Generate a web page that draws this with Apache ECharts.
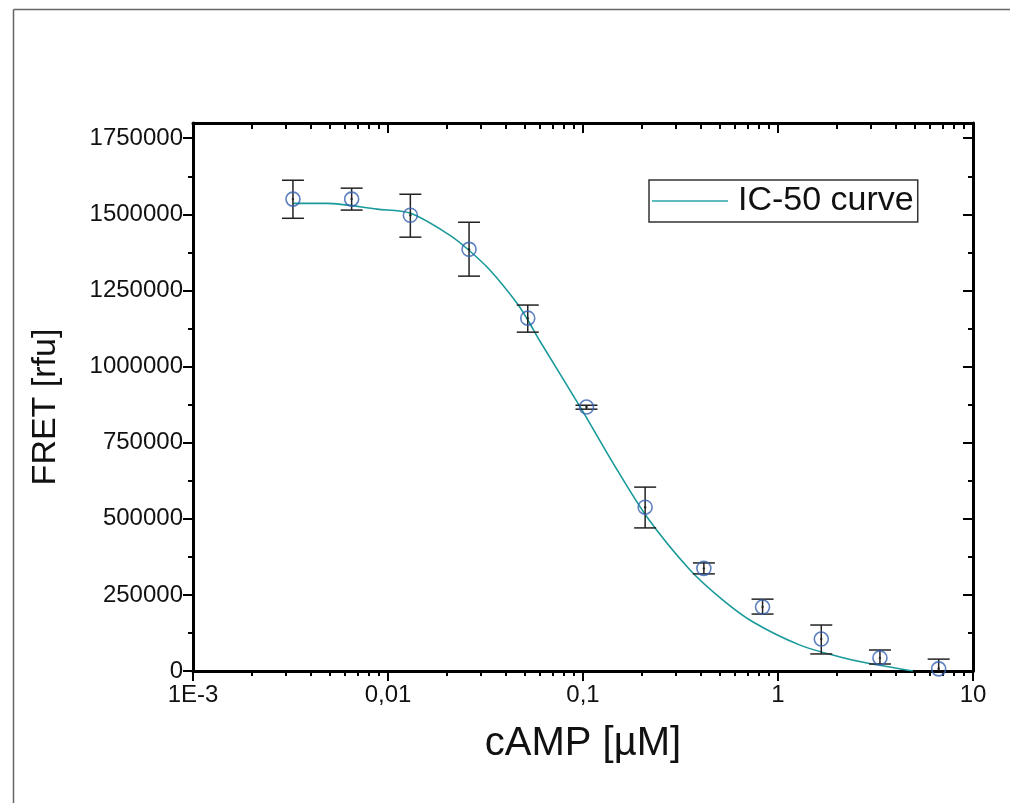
<!DOCTYPE html>
<html>
<head>
<meta charset="utf-8">
<script src="https://cdn.jsdelivr.net/npm/echarts@6/dist/echarts.min.js"></script>
<style>
html,body{margin:0;padding:0;background:#fff;}
#chart{width:1017px;height:803px;}
</style>
</head>
<body>
<div id="chart"></div>
<script>
// ---- data ----
const conc = [0.003255, 0.00651, 0.01302, 0.02604, 0.05208, 0.1042, 0.2083, 0.4167, 0.8333, 1.667, 3.333, 6.667];
const fret = [1550000, 1550000, 1497000, 1385000, 1159000, 867000, 538000, 337000, 210000, 105000, 43000, 7000];
const errHigh = [1612000, 1586000, 1566000, 1474000, 1202000, 873000, 604000, 355000, 236000, 151000, 69000, 39000];
const errLow = [1487000, 1514000, 1425000, 1297000, 1113000, 860000, 470000, 319000, 187000, 56000, 23000, -26000];

const curveX = [0.00326, 0.00486, 0.00879, 0.01297, 0.0208, 0.0260, 0.0333, 0.0459, 0.0522, 0.0602, 0.0989, 0.1426, 0.2128, 0.354, 0.522, 0.745, 1.297, 2.08, 2.86, 4.92];
const curveY = [1536000, 1536000, 1517000, 1504000, 1431000, 1382000, 1317000, 1208000, 1152000, 1083000, 857000, 683000, 506000, 332000, 233000, 161000, 85000, 46000, 26000, 0];

const xMajor = [0.001, 0.01, 0.1, 1, 10];
const xMajorLabels = ['1E-3', '0,01', '0,1', '1', '10'];
const xMinor = [0.002,0.003,0.004,0.005,0.006,0.007,0.008,0.009,
                0.02,0.03,0.04,0.05,0.06,0.07,0.08,0.09,
                0.2,0.3,0.4,0.5,0.6,0.7,0.8,0.9,
                2,3,4,5,6,7,8,9];
const yMajor = [0, 250000, 500000, 750000, 1000000, 1250000, 1500000, 1750000];
const yMinor = [125000, 375000, 625000, 875000, 1125000, 1375000, 1625000];

const FONT = '"Liberation Sans", Arial, sans-serif';
const X_MIN = 0.001, X_MAX = 10, Y_MIN = 0, Y_MAX = 1800000;

function xLabel(v) {
  let best = 0, bd = Infinity;
  xMajor.forEach((m, i) => { const d = Math.abs(Math.log10(m) - Math.log10(v)); if (d < bd) { bd = d; best = i; } });
  return xMajorLabels[best];
}

function xAx(pos, ticks, len, inside, showLine, opts) {
  return Object.assign({
    type: 'log', logBase: 10, min: X_MIN, max: X_MAX, position: pos,
    axisLine: { show: showLine, onZero: false, lineStyle: { color: '#000', width: 3 } },
    axisTick: { show: true, inside: inside, length: len, customValues: ticks, lineStyle: { color: '#000', width: 2 } },
    axisLabel: { show: false },
    splitLine: { show: false },
    minorTick: { show: false }, minorSplitLine: { show: false }
  }, opts || {});
}
function yAx(pos, ticks, len, inside, showLine, opts) {
  return Object.assign({
    type: 'value', min: Y_MIN, max: Y_MAX, position: pos,
    axisLine: { show: showLine, onZero: false, lineStyle: { color: '#000', width: 3 } },
    axisTick: { show: true, inside: inside, length: len, customValues: ticks, lineStyle: { color: '#000', width: 2 } },
    axisLabel: { show: false },
    splitLine: { show: false }
  }, opts || {});
}

const errData = conc.map((c, i) => [c, errLow[i], errHigh[i]]);
const pts = conc.map((c, i) => [c, fret[i]]);
const curve = curveX.map((c, i) => [c, curveY[i]]);

const chart = echarts.init(document.getElementById('chart'), null, { renderer: 'canvas' });
chart.setOption({
  animation: false,
  backgroundColor: '#fff',
  textStyle: { fontFamily: FONT },
  grid: { left: 193, top: 123, right: 44, bottom: 132, containLabel: false },
  xAxis: [
    xAx('bottom', xMajor, 10, false, true, {
      axisLabel: {
        show: true, customValues: xMajor, margin: 12, fontSize: 24, color: '#111', fontFamily: FONT,
        formatter: xLabel
      },
      name: 'cAMP [µM]', nameLocation: 'middle', nameGap: 53,
      nameTextStyle: { fontSize: 40, color: '#111', fontFamily: FONT }
    }),
    xAx('bottom', xMinor, 5, false, false),
    xAx('top', xMajor, 10, true, true),
    xAx('top', xMinor, 6, true, false)
  ],
  yAxis: [
    yAx('left', yMajor, 10, false, true, {
      axisLabel: { show: true, customValues: yMajor, margin: 10, fontSize: 24, color: '#111', fontFamily: FONT,
        formatter: v => String(Math.round(v)) },
      name: 'FRET [rfu]', nameLocation: 'middle', nameGap: 130,
      nameTextStyle: { fontSize: 34, color: '#111', fontFamily: FONT, padding: [0, 20, 0, 0] }
    }),
    yAx('left', yMinor, 5, false, false),
    yAx('right', yMajor, 10, true, true),
    yAx('right', yMinor, 5, true, false)
  ],
  legend: {
    left: 649, top: 180,
    orient: 'vertical',
    data: [{ name: 'IC-50 curve', icon: 'rect' }],
    borderColor: '#333', borderWidth: 1.5, borderRadius: 0,
    padding: [4, 4, 4, 3],
    itemWidth: 76, itemHeight: 2,
    itemStyle: { color: '#5fbcbc' },
    textStyle: { fontSize: 34, color: '#111', fontFamily: FONT, padding: [0, 0, 0, 5] }
  },
  series: [
    {
      name: 'IC-50 curve', type: 'line', data: curve, smooth: 0.3,
      symbol: 'none', xAxisIndex: 0, yAxisIndex: 0,
      lineStyle: { color: '#1a9a9a', width: 1.6 }, itemStyle: { color: '#1a9a9a' }, z: 3
    },
    {
      name: 'err', type: 'custom', data: errData, xAxisIndex: 0, yAxisIndex: 0, clip: true, z: 4,
      renderItem: function (params, api) {
        const x = api.value(0);
        const top = api.coord([x, api.value(2)]);
        const bot = api.coord([x, api.value(1)]);
        const hw = 11;
        const st = { stroke: '#222', lineWidth: 1.5 };
        return {
          type: 'group',
          children: [
            { type: 'line', shape: { x1: top[0], y1: top[1], x2: bot[0], y2: bot[1] }, style: st },
            { type: 'line', shape: { x1: top[0] - hw, y1: top[1], x2: top[0] + hw, y2: top[1] }, style: st },
            { type: 'line', shape: { x1: bot[0] - hw, y1: bot[1], x2: bot[0] + hw, y2: bot[1] }, style: st }
          ]
        };
      }
    },
    {
      name: 'data', type: 'scatter', data: pts, xAxisIndex: 0, yAxisIndex: 0, z: 5,
      symbol: 'circle', symbolSize: 14,
      itemStyle: { color: 'rgba(255,255,255,0)', borderColor: '#3560b0', borderWidth: 1.6 }
    },
    {
      name: 'dot', type: 'scatter', data: pts, xAxisIndex: 0, yAxisIndex: 0, z: 6,
      symbol: 'circle', symbolSize: 2.5, itemStyle: { color: '#222' }
    }
  ],
  graphic: [
    { type: 'line', shape: { x1: 13.5, y1: 9.5, x2: 13.5, y2: 803 }, style: { stroke: '#666', lineWidth: 1.5 }, silent: true },
    { type: 'line', shape: { x1: 13.5, y1: 9.5, x2: 1010, y2: 9.5 }, style: { stroke: '#666', lineWidth: 1.5 }, silent: true }
  ]
});
</script>
</body>
</html>
